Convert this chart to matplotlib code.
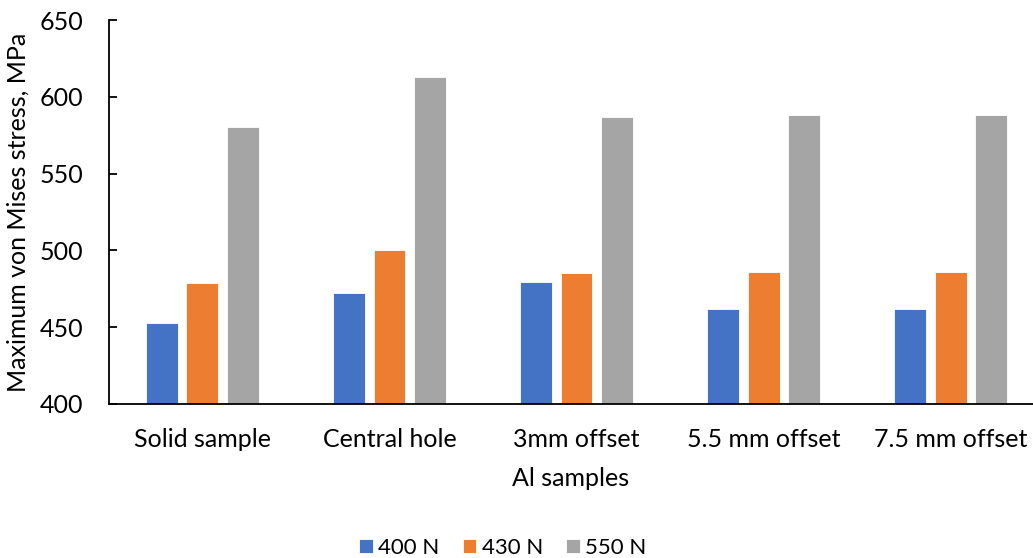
import matplotlib
matplotlib.use("Agg")
import matplotlib.pyplot as plt
import numpy as np

categories = ["Solid sample", "Central hole", "3mm offset", "5.5 mm offset", "7.5 mm offset"]
series_names = ["400 N", "430 N", "550 N"]
stress_400 = [453, 472, 479.5, 462, 462]
stress_430 = [478.5, 500, 485.5, 486, 486]
stress_550 = [580.5, 613, 587, 588.5, 588.5]
colors = ["#4472C4", "#ED7D31", "#A5A5A5"]
yticks = [400, 450, 500, 550, 600, 650]

plt.rcParams["font.family"] = ["Lato", "DejaVu Sans"]

fig = plt.figure(figsize=(10.33, 5.58), dpi=100)
ax = fig.add_axes([0.1055, 0.276, 0.8945, 0.688])

x = np.arange(len(categories))
width = 0.171
step = 0.219
for i, (vals, name, c) in enumerate(zip([stress_400, stress_430, stress_550], series_names, colors)):
    ax.bar(x + (i - 1) * step, np.array(vals) - 400, width, bottom=400, color=c,
           label=name, edgecolor="white", linewidth=0.6)

ax.set_ylim(400, 650)
ax.set_yticks(yticks)
ax.set_xlim(-0.5, 4.441)
ax.set_xticks(x)
ax.set_xticklabels(categories)

for s in ["top", "right"]:
    ax.spines[s].set_visible(False)
for s in ["left", "bottom"]:
    ax.spines[s].set_color("black")
    ax.spines[s].set_linewidth(1.3)

ax.tick_params(axis="y", direction="in", length=6, width=1.3, labelsize=18, pad=18.5)
ax.tick_params(axis="x", length=0, labelsize=18, pad=17)

ax.set_ylabel("Maximum von Mises stress, MPa", fontsize=18, labelpad=7)
ax.set_xlabel("Al samples", fontsize=18, labelpad=12)

fig.legend(loc="center", bbox_to_anchor=(503 / 1033, 1 - 548 / 558), ncol=3,
           frameon=False, fontsize=16, handlelength=0.6, handleheight=0.6,
           handletextpad=0.25, columnspacing=1.05)

fig.savefig("out.png", dpi=100)
